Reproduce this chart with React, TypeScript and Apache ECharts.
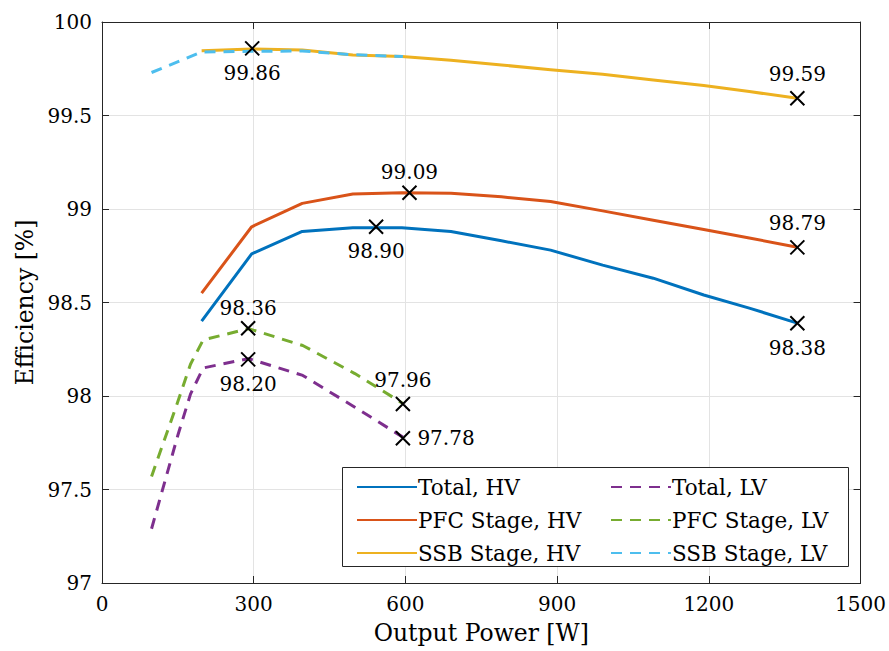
import React, { useEffect, useRef } from "react";
import * as echarts from "echarts";

// ---- data ----
const powerHV = [197, 296, 396, 496, 593, 690, 790, 887, 990, 1090, 1190, 1280, 1375];
const totalHV = [98.40, 98.76, 98.88, 98.90, 98.90, 98.88, 98.83, 98.78, 98.70, 98.63, 98.54, 98.47, 98.39];
const pfcHV = [98.55, 98.905, 99.03, 99.08, 99.087, 99.084, 99.065, 99.04, 98.99, 98.94, 98.89, 98.845, 98.795];
const ssbHV = [99.846, 99.856, 99.85, 99.824, 99.815, 99.795, 99.77, 99.745, 99.72, 99.69, 99.66, 99.628, 99.592];

const powerLV = [98, 150, 175, 200, 290, 397, 500, 595];
const totalLV = [97.29, 97.79, 98.01, 98.15, 98.20, 98.11, 97.94, 97.78];
const pfcLV = [97.57, 97.97, 98.17, 98.30, 98.36, 98.27, 98.12, 97.96];

const powerSsbLV = [98, 197, 296, 396, 496, 595];
const ssbLV = [99.73, 99.84, 99.843, 99.845, 99.825, 99.815];

const markerX = [297, 542, 608, 1375, 1375, 1375, 289, 289, 595, 595];
const markerY = [99.859, 98.905, 99.087, 99.592, 98.795, 98.389, 98.362, 98.196, 97.957, 97.774];
const markerText = ["99.86", "98.90", "99.09", "99.59", "98.79", "98.38", "98.36", "98.20", "97.96", "97.78"];

const xTicks = [0, 300, 600, 900, 1200, 1500];
const yTicks = [97, 97.5, 98, 98.5, 99, 99.5, 100];

// styles (not data)
const markerPlacement = ["bottom", "bottom", "top", "top", "top", "bottom", "top", "bottom", "top", "right"];
const markerDistance = [5, 5, 1, 5, 5, 5, 1, 5, 5, 5];

const FONT = "DejaVu Serif";
const FS_NUM = 20;
const FS_LEGEND = 21.5;
const FS_NAME = 23.5;
const COLORS = {
  blue: "#0072BD",
  orange: "#D95319",
  yellow: "#EDB120",
  purple: "#7E2F8E",
  green: "#77AC30",
  cyan: "#4DBEEE",
};

const zip = (xs: number[], ys: number[]) => xs.map((x, i) => [x, ys[i]]);

export default function App() {
  const ref = useRef<HTMLDivElement>(null);
  useEffect(() => {
    if (!ref.current) return;
    const chart = echarts.init(ref.current, null, { renderer: "svg" });
    const lw = 3;
    const dash = [11, 8];
    const lineSeries = (name: string, xs: number[], ys: number[], color: string, dashed: boolean, z: number) => ({
      name,
      type: "line",
      data: zip(xs, ys),
      showSymbol: false,
      symbol: "none",
      z,
      lineStyle: { color, width: lw, type: dashed ? dash : "solid", cap: "butt", join: "round" },
      itemStyle: { color },
      emphasis: { disabled: true },
    });
    const legendCommon = {
      orient: "vertical",
      top: 476,
      itemWidth: 60,
      itemHeight: 20,
      itemGap: 11,
      z: 6,
      textStyle: { fontFamily: FONT, fontSize: FS_LEGEND, color: "#000", lineHeight: 20, padding: [0, 0, 0, -4] },
      itemStyle: { opacity: 0 },
      selectedMode: false,
      padding: 0,
    };
    chart.setOption({
      animation: false,
      backgroundColor: "#fff",
      textStyle: { fontFamily: FONT },
      grid: { left: 102, right: 27, top: 22, bottom: 68, containLabel: false },
      xAxis: [
        {
          type: "value",
          min: 0,
          max: 1500,
          interval: 300,
          name: "Output Power [W]",
          nameLocation: "middle",
          nameGap: 38,
          nameTextStyle: { fontFamily: FONT, fontSize: FS_NAME, color: "#000" },
          axisLine: { show: true, onZero: false, lineStyle: { color: "#262626", width: 1 } },
          axisTick: { show: true, inside: true, length: 7, lineStyle: { color: "#262626" } },
          axisLabel: {
            fontFamily: FONT,
            fontSize: FS_NUM,
            color: "#000",
            margin: 11,
            formatter: (v: number) => (xTicks.includes(v) ? String(v) : ""),
          },
          splitLine: { show: true, lineStyle: { color: "#e3e3e3", width: 1 } },
        },
        {
          type: "value",
          position: "top",
          min: 0,
          max: 1500,
          interval: 300,
          axisLine: { show: true, onZero: false, lineStyle: { color: "#262626", width: 1 } },
          axisTick: { show: true, inside: true, length: 7, lineStyle: { color: "#262626" } },
          axisLabel: { show: false },
          splitLine: { show: false },
        },
      ],
      yAxis: [
        {
          type: "value",
          min: 97,
          max: 100,
          interval: 0.5,
          name: "Efficiency [%]",
          nameLocation: "middle",
          nameGap: 62,
          nameRotate: 90,
          nameTextStyle: { fontFamily: FONT, fontSize: FS_NAME, color: "#000" },
          axisLine: { show: true, onZero: false, lineStyle: { color: "#262626", width: 1 } },
          axisTick: { show: true, inside: true, length: 7, lineStyle: { color: "#262626" } },
          axisLabel: {
            fontFamily: FONT,
            fontSize: FS_NUM,
            color: "#000",
            margin: 10,
            formatter: (v: number) => {
              const t = yTicks.find((k) => Math.abs(k - v) < 1e-6);
              return t === undefined ? "" : String(t);
            },
          },
          splitLine: { show: true, lineStyle: { color: "#e3e3e3", width: 1 } },
        },
        {
          type: "value",
          position: "right",
          min: 97,
          max: 100,
          interval: 0.5,
          axisLine: { show: true, onZero: false, lineStyle: { color: "#262626", width: 1 } },
          axisTick: { show: true, inside: true, length: 7, lineStyle: { color: "#262626" } },
          axisLabel: { show: false },
          splitLine: { show: false },
        },
      ],
      legend: [
        { ...legendCommon, data: ["Total, HV", "PFC Stage, HV", "SSB Stage, HV"], left: 356 },
        { ...legendCommon, data: ["Total, LV", "PFC Stage, LV", "SSB Stage, LV"], left: 610 },
      ],
      graphic: [
        {
          type: "rect",
          left: 342,
          top: 467,
          shape: { width: 506, height: 99 },
          style: { fill: "#fff", stroke: "#262626", lineWidth: 1 },
          z: 3,
          silent: true,
        },
      ],
      series: [
        lineSeries("Total, HV", powerHV, totalHV, COLORS.blue, false, 3),
        lineSeries("PFC Stage, HV", powerHV, pfcHV, COLORS.orange, false, 3),
        lineSeries("SSB Stage, HV", powerHV, ssbHV, COLORS.yellow, false, 3),
        lineSeries("Total, LV", powerLV, totalLV, COLORS.purple, true, 4),
        lineSeries("PFC Stage, LV", powerLV, pfcLV, COLORS.green, true, 4),
        lineSeries("SSB Stage, LV", powerSsbLV, ssbLV, COLORS.cyan, true, 4),
        {
          type: "scatter",
          z: 6,
          symbol: "path://M0,0L10,10M10,0L0,10",
          symbolSize: 14,
          itemStyle: { color: "none", borderColor: "#000", borderWidth: 2, opacity: 1 },
          emphasis: { disabled: true },
          data: markerX.map((x, i) => ({
            value: [x, markerY[i]],
            label: {
              show: true,
              formatter: markerText[i],
              position: markerPlacement[i],
              distance: markerDistance[i],
              fontFamily: FONT,
              fontSize: FS_NUM,
              color: "#000",
              opacity: 1,
            },
          })),
        },
      ],
    });
    return () => chart.dispose();
  }, []);
  return <div ref={ref} style={{ width: 889, height: 651, position: "absolute", left: 0, top: 0 }} />;
}
